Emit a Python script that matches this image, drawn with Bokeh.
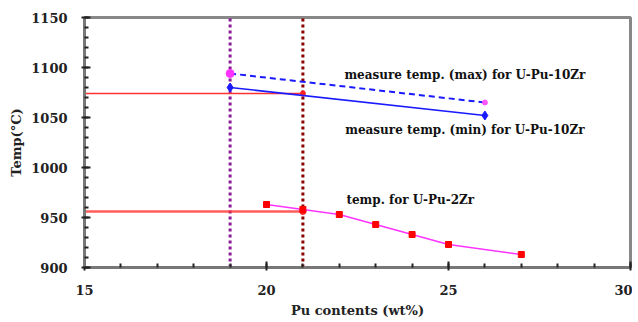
from bokeh.plotting import figure
from bokeh.models import Range1d, Label, FixedTicker
from bokeh.embed import file_html
from bokeh.resources import INLINE

pu_2zr = [20, 21, 22, 23, 24, 25, 27]
t_2zr = [963, 958, 953, 943, 933, 923, 913]
pu_max = [19, 26]
t_max = [1094, 1065]
pu_min = [19, 26]
t_min = [1080, 1052]
ref_hi_x = [15, 21]
ref_hi_y = [1074, 1074]
ref_lo_x = [15, 21]
ref_lo_y = [956, 956]
vline_purple = 19
vline_darkred = 21
x_ticks = [15, 20, 25, 30]
y_ticks = [900, 950, 1000, 1050, 1100, 1150]

FONT = "DejaVu Serif"

p = figure(width=632, height=320, output_backend="svg", toolbar_location=None,
           x_range=Range1d(15, 30), y_range=Range1d(900, 1150),
           min_border_left=84, min_border_right=2, min_border_top=17, min_border_bottom=49)
p.xgrid.visible = False
p.ygrid.visible = False
p.outline_line_color = "#888888"
p.outline_line_width = 3
p.background_fill_color = "white"

for ax in (p.xaxis[0], p.yaxis[0]):
    ax.axis_line_color = "#777777"
    ax.axis_line_width = 3
    ax.major_tick_line_color = "#222222"
    ax.minor_tick_line_color = "#222222"
    ax.major_tick_line_width = 2
    ax.minor_tick_line_width = 2
    ax.major_tick_in = 6
    ax.major_tick_out = 3
    ax.minor_tick_in = 4
    ax.minor_tick_out = 0
    ax.major_label_text_font = FONT
    ax.major_label_text_font_style = "bold"
    ax.major_label_text_font_size = "13px"
    ax.major_label_text_color = "#222222"
    ax.axis_label_text_font = FONT
    ax.axis_label_text_font_style = "bold"
    ax.axis_label_text_font_size = "13px"
    ax.axis_label_text_color = "#222222"

p.xaxis.ticker = FixedTicker(ticks=x_ticks, minor_ticks=list(range(15, 31)))
p.yaxis.ticker = FixedTicker(ticks=y_ticks, minor_ticks=list(range(900, 1151, 10)))
p.xaxis.major_label_standoff = 14
p.yaxis.major_label_standoff = 14
p.xaxis.axis_label = "Pu contents (wt%)"
p.yaxis.axis_label = "Temp(°C)"
p.xaxis.axis_label_standoff = 5
p.yaxis.axis_label_standoff = 4

# vertical dotted lines
p.line([vline_purple, vline_purple], [900, 1150], line_color="#8B1A96", line_width=3, line_dash="3 3")
p.line([vline_darkred, vline_darkred], [900, 1150], line_color="#8B0000", line_width=3, line_dash="3 3")

# red reference lines
p.line(ref_hi_x, ref_hi_y, line_color="#FF3333", line_width=1.5)
p.line(ref_lo_x, ref_lo_y, line_color="#FF3333", line_width=2.5, alpha=0.8)
p.scatter([ref_hi_x[1]], [ref_hi_y[1]], marker="circle", size=5, color="#FF2222")
p.scatter([ref_lo_x[1]], [ref_lo_y[1]], marker="circle", size=6, color="#FF2222")

# U-Pu-10Zr max (dashed) and min (solid)
p.line(pu_max, t_max, line_color="#1a1aff", line_width=2, line_dash="6 4")
p.scatter(pu_max[:1], t_max[:1], marker="circle", size=8, color="#FF33FF")
p.scatter(pu_max[1:], t_max[1:], marker="circle", size=5, color="#FF55FF")
p.line(pu_min, t_min, line_color="#1a1aff", line_width=1.5)
p.scatter(pu_min, t_min, marker="diamond", size=9, color="#1a1aff")

# U-Pu-2Zr
p.line(pu_2zr, t_2zr, line_color="#FF33FF", line_width=1.5)
p.scatter(pu_2zr, t_2zr, marker="square", size=6, color="#FF0000")

for txt, x, y in [("measure temp. (max) for U-Pu-10Zr", 25.45, 1093),
                  ("measure temp. (min) for U-Pu-10Zr", 25.45, 1038),
                  ("temp. for U-Pu-2Zr", 23.95, 968)]:
    p.add_layout(Label(x=x, y=y, text=txt, text_align="center", text_baseline="middle",
                       text_font=FONT, text_font_style="bold", text_font_size="12px",
                       text_color="#111111"))

open("out.html", "w").write(file_html(p, INLINE))
